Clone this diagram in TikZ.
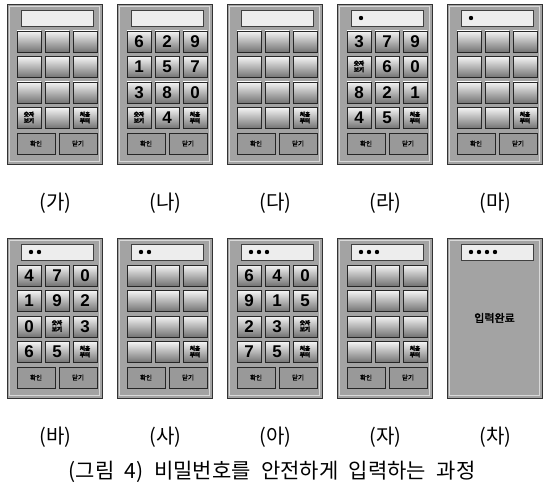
\documentclass[tikz,border=0pt]{standalone}
\usepackage{fontspec}
\setmainfont{Liberation Sans}
\newfontfamily\kr{Noto Sans CJK KR}
\newfontfamily\krb[FakeBold=2.5]{Noto Sans CJK KR}
\newcommand\twolines[2]{{\krb\fontsize{5.6}{6.2}\selectfont\def\arraystretch{0.85}\begin{tabular}{@{}c@{}}#1\\#2\end{tabular}}}
\newcommand\sk{\twolines{숫자}{보기}}
\newcommand\rk{\twolines{처음}{부터}}
\newcommand\nk{}
\tikzset{
  panelbox/.style={draw=black!80, line width=1pt, fill=black!36, minimum width=95pt, minimum height=160pt, inner sep=0pt, anchor=north west},
  rim/.style={draw=black!15, line width=0.6pt},
  screen/.style={draw=black!75, line width=0.9pt, fill=black!7, minimum width=72pt, minimum height=16pt, inner sep=0pt, anchor=north west},
  keybox/.style={draw=black!85, line width=0.9pt, top color=black!4, bottom color=black!55, minimum width=24pt, minimum height=21pt, inner sep=0pt, font=\bfseries\fontsize{17}{17}\selectfont},
  lowkey/.style={draw=black!85, line width=0.9pt, fill=black!40, minimum width=38pt, minimum height=21pt, inner sep=0pt, font=\krb\fontsize{6.5}{7}\selectfont},
  pdot/.style={circle, fill=black, inner sep=0pt, minimum size=4.4pt},
  lab/.style={font=\kr\fontsize{20}{20}\selectfont},
  done/.style={font=\krb\fontsize{11}{11}\selectfont}
}
% #1 name, #2 x, #3 y, #4 number of dots, #5 twelve keys
\newcommand\phonepanel[5]{%
  \node[panelbox] (#1) at (#2,#3) {};
  \draw[rim] (#2+2.5,#3+2.5) rectangle (#2+92.5,#3+157.5);
  \node[screen] (#1s) at (#2+14,#3+6) {};
  \ifnum#4>0
    \foreach \d in {1,...,#4}{\node[pdot] (#1d\d) at (#2+16+8*\d,#3+14) {};}
  \fi
  \foreach \t [count=\k from 0] in {#5}{%
    \pgfmathtruncatemacro\r{int(\k/3)}%
    \pgfmathtruncatemacro\c{mod(\k,3)}%
    \node[keybox] (#1k\k) at (#2+22+28*\c,#3+37.5+25.5*\r) {\t};
  }
  \node[lowkey] (#1ok) at (#2+29,#3+139.5) {확인};
  \node[lowkey] (#1cl) at (#2+71,#3+139.5) {닫기};
}
\begin{document}
\begin{tikzpicture}[x=1pt,y=-1pt]
\useasboundingbox (0,0) rectangle (544,492);
\fill[white] (0,0) rectangle (544,492);
% top row
\phonepanel{pa}{7}{4}{0}{\nk,\nk,\nk,\nk,\nk,\nk,\nk,\nk,\nk,\sk,\nk,\rk}
\phonepanel{pb}{117}{4}{0}{6,2,9,1,5,7,3,8,0,\sk,4,\rk}
\phonepanel{pc}{227}{4}{0}{\nk,\nk,\nk,\nk,\nk,\nk,\nk,\nk,\nk,\nk,\nk,\rk}
\phonepanel{pd}{337}{4}{1}{3,7,9,\sk,6,0,8,2,1,4,5,\rk}
\phonepanel{pe}{447}{4}{1}{\nk,\nk,\nk,\nk,\nk,\nk,\nk,\nk,\nk,\nk,\nk,\rk}
% bottom row
\phonepanel{pf}{7}{238}{2}{4,7,0,1,9,2,0,\sk,3,6,5,\rk}
\phonepanel{pg}{117}{238}{2}{\nk,\nk,\nk,\nk,\nk,\nk,\nk,\nk,\nk,\nk,\nk,\rk}
\phonepanel{ph}{227}{238}{3}{6,4,0,9,1,5,2,3,\sk,7,5,\rk}
\phonepanel{pi}{337}{238}{3}{\nk,\nk,\nk,\nk,\nk,\nk,\nk,\nk,\nk,\nk,\nk,\rk}
% finished panel
\node[panelbox] (pj) at (447,238) {};
\draw[rim] (449.5,240.5) rectangle (539.5,395.5);
\node[screen] (pjs) at (461,244) {};
\foreach \d in {1,...,4}{\node[pdot] (pjd\d) at (463+8*\d,252) {};}
\node[done] (pjt) at (494.5,318) {입력완료};
% labels
\node[lab] (la) at (55.5,203) {(가)};
\node[lab] (lb) at (165.5,203) {(나)};
\node[lab] (lc) at (275.5,203) {(다)};
\node[lab] (ld) at (385.5,203) {(라)};
\node[lab] (le) at (495.5,203) {(마)};
\node[lab] (lf) at (55.5,437) {(바)};
\node[lab] (lg) at (165.5,437) {(사)};
\node[lab] (lh) at (275.5,437) {(아)};
\node[lab] (li) at (385.5,437) {(자)};
\node[lab] (lj) at (495.5,437) {(차)};
\node[lab, font=\kr\fontsize{21}{21}\selectfont] (caption) at (272,472) {\spaceskip=0.5em\relax(그림 4) 비밀번호를 안전하게 입력하는 과정};
\end{tikzpicture}
\end{document}
